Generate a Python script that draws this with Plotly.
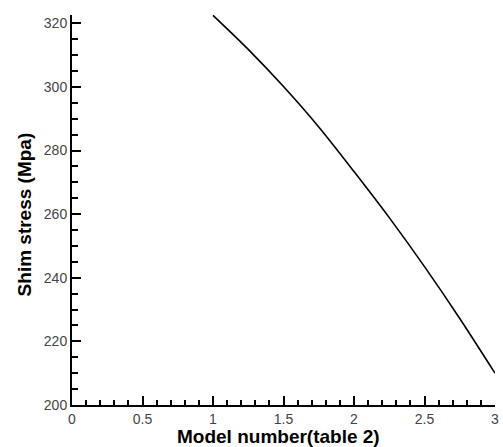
import plotly.graph_objects as go

model_number = [1.0, 1.25, 1.5, 1.75, 2.0, 2.25, 2.5, 2.75, 3.0]
shim_stress = [322.5, 311.8, 300.1, 287.4, 273.4, 258.9, 243.5, 227.2, 210.0]

x_ticks = [0, 0.5, 1, 1.5, 2, 2.5, 3]
x_tick_labels = ["0", "0.5", "1", "1.5", "2", "2.5", "3"]
y_ticks = [200, 220, 240, 260, 280, 300, 320]
y_tick_labels = ["200", "220", "240", "260", "280", "300", "320"]

fig = go.Figure()
fig.add_trace(go.Scatter(
    x=model_number, y=shim_stress, mode="lines",
    line=dict(color="black", width=1.6, shape="spline", smoothing=0.8),
    showlegend=False, cliponaxis=True,
))

tick_font = dict(family="Liberation Sans, Arial, sans-serif", size=14, color="#444444")
title_font = dict(family="Liberation Sans, Arial, sans-serif", size=19, color="black")

fig.update_layout(
    width=503, height=447,
    margin=dict(l=72, r=4, t=15, b=42),
    paper_bgcolor="white", plot_bgcolor="white",
    xaxis=dict(
        range=[0, 3], showgrid=False, zeroline=False,
        showline=True, linecolor="black", linewidth=2,
        ticks="inside", ticklen=9, tickwidth=2, tickcolor="black",
        tickvals=x_ticks, ticktext=x_tick_labels, tickfont=tick_font,
        ticklabeloverflow="allow",
        minor=dict(ticks="inside", ticklen=5, tickwidth=1.5, tickcolor="black", dtick=0.1, showgrid=False),
    ),
    yaxis=dict(
        range=[200, 322.6], showgrid=False, zeroline=False,
        showline=True, linecolor="black", linewidth=2,
        ticks="inside", ticklen=9, tickwidth=2, tickcolor="black",
        tickvals=y_ticks, ticktext=y_tick_labels, tickfont=tick_font,
        ticklabeloverflow="allow",
        minor=dict(ticks="inside", ticklen=6, tickwidth=1.5, tickcolor="black", dtick=5, showgrid=False),
    ),
    annotations=[
        dict(text="<b>Model number(table 2)</b>", xref="paper", yref="paper",
             x=0.489, y=-0.0815, xanchor="center", yanchor="middle",
             showarrow=False, font=title_font),
        dict(text="<b>Shim stress (Mpa)</b>", xref="paper", yref="paper",
             x=-0.1123, y=0.49, xanchor="center", yanchor="middle", textangle=-90,
             showarrow=False, font=title_font),
    ],
)

fig.write_html("out.html")
